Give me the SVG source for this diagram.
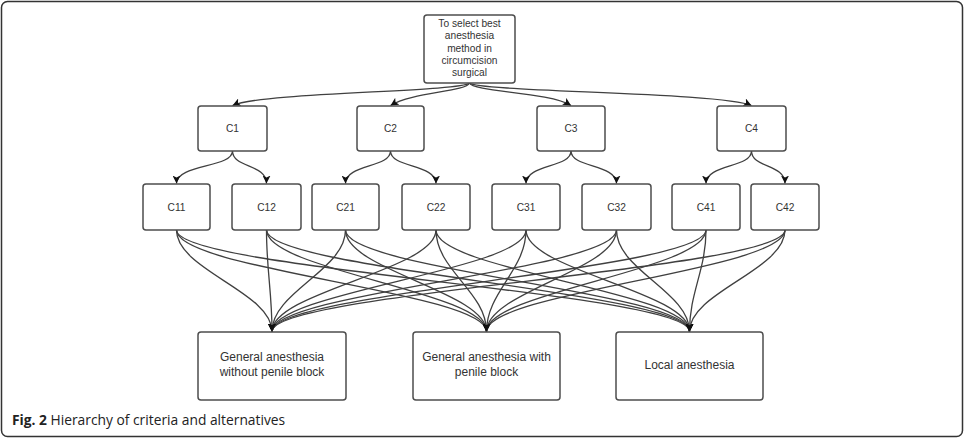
<svg xmlns="http://www.w3.org/2000/svg" width="967" height="440" viewBox="0 0 967 440">
<style>
.box{fill:#fff;stroke:#4d4d4d;stroke-width:1.5}
.t{font-family:"Liberation Sans",Arial,sans-serif;font-size:10.2px;fill:#333;text-anchor:middle}
.ta{font-family:"Liberation Sans",Arial,sans-serif;font-size:12px;fill:#333;text-anchor:middle}
.e{fill:none;stroke:#404040;stroke-width:1.3;marker-end:url(#arr)}
.cap{font-family:"Open Sans",sans-serif;font-size:13.8px;fill:#222}
</style>
<defs>
<marker id="arr" markerUnits="userSpaceOnUse" viewBox="0 0 10 10" refX="10" refY="5" markerWidth="8" markerHeight="8" orient="auto">
<path d="M0,0 L10,5 L0,10 L2.5,5 z" fill="#111"/>
</marker>
</defs>
<rect x="1.5" y="1.5" width="961" height="435" rx="6" fill="#fff" stroke="#333" stroke-width="1.5"/>
<g id="connectors">
<path class="e" d="M469.5,83 C460,92 262,92 232.5,105.5"/>
<path class="e" d="M469.5,83 C466,92 412,92 390.5,105.5"/>
<path class="e" d="M469.5,83 C473,92 549,92 571,105.5"/>
<path class="e" d="M469.5,83 C479,92 722,92 751.5,105.5"/>
<path class="e" d="M232.5,151 C232.5,168 176.5,164 176.5,183.5"/>
<path class="e" d="M232.5,151 C232.5,168 266.5,164 266.5,183.5"/>
<path class="e" d="M390.5,151 C390.5,168 345.5,164 345.5,183.5"/>
<path class="e" d="M390.5,151 C390.5,168 436,164 436,183.5"/>
<path class="e" d="M571,151 C571,168 526,164 526,183.5"/>
<path class="e" d="M571,151 C571,168 616.5,164 616.5,183.5"/>
<path class="e" d="M751.5,151 C751.5,168 706,164 706,183.5"/>
<path class="e" d="M751.5,151 C751.5,168 785,164 785,183.5"/>
<path class="e" d="M176.5,230 C176.5,270 272,292 272,331.5"/>
<path class="e" d="M176.5,230 C176.5,270 486.5,292 486.5,331.5"/>
<path class="e" d="M176.5,230 C176.5,270 689.5,292 689.5,331.5"/>
<path class="e" d="M266.5,230 C266.5,270 272,292 272,331.5"/>
<path class="e" d="M266.5,230 C266.5,270 486.5,292 486.5,331.5"/>
<path class="e" d="M266.5,230 C266.5,270 689.5,292 689.5,331.5"/>
<path class="e" d="M345.5,230 C345.5,270 272,292 272,331.5"/>
<path class="e" d="M345.5,230 C345.5,270 486.5,292 486.5,331.5"/>
<path class="e" d="M345.5,230 C345.5,270 689.5,292 689.5,331.5"/>
<path class="e" d="M436,230 C436,270 272,292 272,331.5"/>
<path class="e" d="M436,230 C436,270 486.5,292 486.5,331.5"/>
<path class="e" d="M436,230 C436,270 689.5,292 689.5,331.5"/>
<path class="e" d="M526,230 C526,270 272,292 272,331.5"/>
<path class="e" d="M526,230 C526,270 486.5,292 486.5,331.5"/>
<path class="e" d="M526,230 C526,270 689.5,292 689.5,331.5"/>
<path class="e" d="M616.5,230 C616.5,270 272,292 272,331.5"/>
<path class="e" d="M616.5,230 C616.5,270 486.5,292 486.5,331.5"/>
<path class="e" d="M616.5,230 C616.5,270 689.5,292 689.5,331.5"/>
<path class="e" d="M706,230 C706,270 272,292 272,331.5"/>
<path class="e" d="M706,230 C706,270 486.5,292 486.5,331.5"/>
<path class="e" d="M706,230 C706,270 689.5,292 689.5,331.5"/>
<path class="e" d="M785,230 C785,270 272,292 272,331.5"/>
<path class="e" d="M785,230 C785,270 486.5,292 486.5,331.5"/>
<path class="e" d="M785,230 C785,270 689.5,292 689.5,331.5"/>
</g>
<g id="goal">
<rect class="box" x="424" y="15" width="91" height="68" rx="3"/>
<text class="t" x="469.5" y="27">To select best</text>
<text class="t" x="469.5" y="39">anesthesia</text>
<text class="t" x="469.5" y="51.5">method in</text>
<text class="t" x="469.5" y="64">circumcision</text>
<text class="t" x="469.5" y="76">surgical</text>
</g>
<g id="C1"><rect class="box" x="198" y="106" width="69" height="45" rx="3"/><text class="t" x="232.5" y="132">C1</text></g>
<g id="C2"><rect class="box" x="357" y="106" width="67" height="45" rx="3"/><text class="t" x="390.5" y="132">C2</text></g>
<g id="C3"><rect class="box" x="537" y="106" width="68" height="45" rx="3"/><text class="t" x="571" y="132">C3</text></g>
<g id="C4"><rect class="box" x="717" y="106" width="69" height="45" rx="3"/><text class="t" x="751.5" y="132">C4</text></g>
<g id="C11"><rect class="box" x="143" y="184" width="67" height="46" rx="3"/><text class="t" x="176.5" y="210.5">C11</text></g>
<g id="C12"><rect class="box" x="232" y="184" width="69" height="46" rx="3"/><text class="t" x="266.5" y="210.5">C12</text></g>
<g id="C21"><rect class="box" x="312" y="184" width="67" height="46" rx="3"/><text class="t" x="345.5" y="210.5">C21</text></g>
<g id="C22"><rect class="box" x="402" y="184" width="68" height="46" rx="3"/><text class="t" x="436" y="210.5">C22</text></g>
<g id="C31"><rect class="box" x="492" y="184" width="68" height="46" rx="3"/><text class="t" x="526" y="210.5">C31</text></g>
<g id="C32"><rect class="box" x="582" y="184" width="69" height="46" rx="3"/><text class="t" x="616.5" y="210.5">C32</text></g>
<g id="C41"><rect class="box" x="672" y="184" width="68" height="46" rx="3"/><text class="t" x="706" y="210.5">C41</text></g>
<g id="C42"><rect class="box" x="751" y="184" width="68" height="46" rx="3"/><text class="t" x="785" y="210.5">C42</text></g>
<g id="A1"><rect class="box" x="198" y="332" width="148" height="68" rx="3"/>
<text class="ta" x="272" y="361">General anesthesia</text>
<text class="ta" x="272" y="376">without penile block</text></g>
<g id="A2"><rect class="box" x="413" y="332" width="147" height="68" rx="3"/>
<text class="ta" x="486.5" y="361">General anesthesia with</text>
<text class="ta" x="486.5" y="376">penile block</text></g>
<g id="A3"><rect class="box" x="616" y="332" width="147" height="68" rx="3"/>
<text class="ta" x="689.5" y="369">Local anesthesia</text></g>
<text class="cap" x="12" y="425"><tspan font-weight="bold">Fig. 2</tspan> Hierarchy of criteria and alternatives</text>
</svg>
